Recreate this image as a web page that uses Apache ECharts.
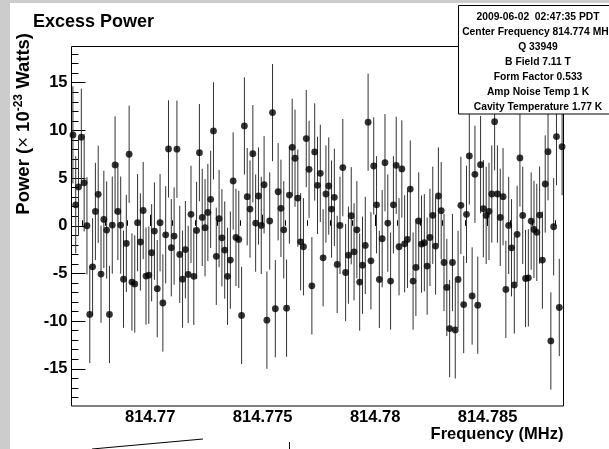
<!DOCTYPE html>
<html>
<head>
<meta charset="utf-8">
<script src="https://cdn.jsdelivr.net/npm/echarts@6/dist/echarts.min.js"></script>
<style>
  html, body { margin: 0; padding: 0; background: #ffffff; }
  #chart { width: 609px; height: 449px; }
</style>
</head>
<body>
<div id="chart"></div>
<script>
// Frequency binning (MHz): lower edge of the first bin and bin width
const BIN_START = 814.7665;
const BIN_WIDTH = 0.000125;

// Excess power per bin, in units of 1e-23 W
const power = [
  9.53, 2.2, 4.07, 9.29, 4.5, 0.0, -9.3, -4.3, 1.5, 3.3,
  -5.07, 0.67, -0.45, -9.3, 0.07, 6.38, 1.5, 0.07, -5.6, -1.85,
  7.5, -5.9, -6.1, 0.32, -1.7, 1.6, -5.28, -5.18, -2.83, -0.56,
  -6.6, 0.32, -8.1, -0.95, 8.06, -2.3, -1.08, 8.03, -3.0, -5.6,
  -2.5, -5.1, 1.2, -5.3, -0.49, 7.67, 0.88, -0.2, 1.4, 2.77,
  9.95, -3.2, 0.76, -1.26, -2.55, -5.3, -3.6, 4.7, -1.22, -1.43,
  -9.4, 10.47, 3.05, 1.75, 7.56, 0.28, 3.12, 0.04, 4.3, -9.9,
  0.5, 11.87, -8.7, 3.57, 1.83, -0.42, -8.64, 3.22, 8.23, 7.08,
  2.9, -1.68, -2.2, 9.14, 5.92, -6.3, 7.74, 4.24, 5.5, -3.36,
  3.33, 4.17, 1.75, 2.98, -4.05, 0.04, 6.1, -4.9, -3.08, 1.05,
  -2.73, -0.42, -5.9, -4.13, -2.06, 10.86, -3.68, 6.27, 2.2, -5.63,
  -1.36, 6.62, 0.28, -5.8, 2.2, 6.34, -2.2, 5.96, -1.89, -1.43,
  3.85, -5.8, -4.37, 0.5, -1.92, -1.78, -4.23, -1.22, 1.1, -2.13,
  3.12, 1.58, -3.85, -6.47, -10.78, -3.85, -10.92, -5.63, 2.14, -8.26,
  1.2, 7.32, -7.36, 5.4, -8.33, 6.41, 1.79, 1.09, 1.51, 3.33,
  10.92, 3.33, 0.88, 3.05, -6.67, 0.04, -2.31, -6.2, -0.9, 7.11,
  1.09, -5.53, -5.46, 0.49, -0.38, -0.69, 1.12, -3.6, 4.38, 7.77,
  -12.08, -0.1, 9.35, -8.57, 8.3
];

// One-sigma uncertainty on each power value (1e-23 W)
const POWER_ERR = 5.1;

// Axis tick labels
const xTickLabels = ['814.77', '814.775', '814.78', '814.785'];
const yTickLabels = ['-15', '-10', '-5', '0', '5', '10', '15'];

// Run conditions shown in the info box
const statsLines = [
  '2009-06-02  02:47:35 PDT',
  'Center Frequency 814.774 MHz',
  'Q 33949',
  'B Field 7.11 T',
  'Form Factor 0.533',
  'Amp Noise Temp 1 K',
  'Cavity Temperature 1.77 K'
];

const X_MIN = BIN_START;
const X_MAX = BIN_START + power.length * BIN_WIDTH;
const Y_MIN = -18.9;
const Y_MAX = 18.8;

// bin centres
const points = power.map((p, i) => [BIN_START + (i + 0.5) * BIN_WIDTH, p]);

// unlabeled minor ticks: every kHz on x, every unit on y
const xMinor = [];
for (let k = 767; k <= 788; k++) xMinor.push(814 + k / 1000);
const yMinor = [];
for (let v = -18; v <= 18; v++) yMinor.push(v);

const FONT = '"Liberation Sans", Arial, Helvetica, sans-serif';
const AX_COLOR = '#000000';

const chart = echarts.init(document.getElementById('chart'), null, { renderer: 'canvas' });

const baseX = {
  type: 'value', gridIndex: 0, position: 'bottom', min: X_MIN, max: X_MAX,
  splitLine: { show: false },
  axisLine: { show: false }
};
const baseY = {
  type: 'value', gridIndex: 0, position: 'left', min: Y_MIN, max: Y_MAX,
  splitLine: { show: false },
  axisLine: { show: false }
};

chart.setOption({
  animation: false,
  backgroundColor: '#ffffff',
  grid: {
    left: 71.5, top: 46.5, width: 492, height: 359.5,
    show: true, borderColor: AX_COLOR, borderWidth: 1, backgroundColor: 'transparent'
  },
  xAxis: [
    Object.assign({}, baseX, {
      axisTick: { show: true, inside: true, length: 11, customValues: xTickLabels.map(Number),
        lineStyle: { color: AX_COLOR, width: 1 } },
      axisLabel: {
        show: true, customValues: xTickLabels.map(Number), margin: 2.5,
        fontFamily: FONT, fontWeight: 'bold', fontSize: 16.5, color: '#000',
        formatter: v => {
          const s = xTickLabels.find(t => Math.abs(Number(t) - v) < 1e-7);
          return s || '';
        }
      }
    }),
    Object.assign({}, baseX, {
      axisTick: { show: true, inside: true, length: 5.5, customValues: xMinor,
        lineStyle: { color: AX_COLOR, width: 1 } },
      axisLabel: { show: false }
    })
  ],
  yAxis: [
    Object.assign({}, baseY, {
      axisTick: { show: true, inside: true, length: 14, customValues: yTickLabels.map(Number),
        lineStyle: { color: AX_COLOR, width: 1 } },
      axisLabel: {
        show: true, customValues: yTickLabels.map(Number), margin: 4,
        padding: [3, 0, 0, 0],
        fontFamily: FONT, fontWeight: 'bold', fontSize: 16.5, color: '#000',
        formatter: v => {
          const s = yTickLabels.find(t => Math.abs(Number(t) - v) < 1e-7);
          return s || '';
        }
      }
    }),
    Object.assign({}, baseY, {
      axisTick: { show: true, inside: true, length: 7, customValues: yMinor,
        lineStyle: { color: AX_COLOR, width: 1 } },
      axisLabel: { show: false }
    })
  ],
  series: [
    {
      type: 'custom',
      name: 'error',
      xAxisIndex: 0, yAxisIndex: 0,
      data: points,
      clip: true,
      renderItem: (params, api) => {
        const x = api.value(0), y = api.value(1);
        const lo = api.coord([x, y - POWER_ERR]);
        const hi = api.coord([x, y + POWER_ERR]);
        return {
          type: 'line',
          shape: { x1: lo[0], y1: lo[1], x2: hi[0], y2: hi[1] },
          style: { stroke: '#333333', lineWidth: 1 },
          silent: true
        };
      }
    },
    {
      type: 'scatter',
      name: 'power',
      xAxisIndex: 0, yAxisIndex: 0,
      data: points,
      symbol: 'circle',
      symbolSize: 6.8,
      itemStyle: { color: '#000000' },
      silent: true
    }
  ],
  graphic: [
    // canvas border strips
    { type: 'rect', shape: { x: 0, y: 0, width: 10, height: 449 }, style: { fill: '#cccccc' }, z: 1 },
    { type: 'rect', shape: { x: 0, y: 0, width: 609, height: 3 }, style: { fill: '#cccccc' }, z: 1 },
    // title
    { type: 'text', x: 33, y: 22, z: 10,
      style: { text: 'Excess Power', font: 'bold 18px ' + FONT, fill: '#000', align: 'left', verticalAlign: 'middle' } },
    // x-axis title
    { type: 'text', x: 563.5, y: 434, z: 10,
      style: { text: 'Frequency (MHz)', font: 'bold 16.5px ' + FONT, fill: '#000', align: 'right', verticalAlign: 'middle' } },
    // y-axis title
    { type: 'text', x: 24, y: 33, rotation: Math.PI / 2, z: 10,
      style: {
        text: '{b|Power (}{n|×}{b| 10}{s|-23}{b| Watts)}',
        align: 'right', verticalAlign: 'middle', fill: '#000',
        rich: {
          b: { fontFamily: FONT, fontWeight: 'bold', fontSize: 18.5, fill: '#000' },
          n: { fontFamily: FONT, fontWeight: 'normal', fontSize: 18.5, fill: '#000' },
          s: { fontFamily: FONT, fontWeight: 'bold', fontSize: 12, fill: '#000', padding: [0, 0, 10, 0] }
        }
      } },
    // info box
    { type: 'rect', z: 20, shape: { x: 458.5, y: 5.5, width: 200, height: 108.5 },
      style: { fill: '#ffffff', stroke: '#000000', lineWidth: 1 } },
    ...statsLines.map((t, i) => ({
      type: 'text', z: 21, x: 538, y: 17 + i * 15,
      style: { text: t, font: 'bold 10.3px ' + FONT, fill: '#000', align: 'center', verticalAlign: 'middle' }
    })),
    // stray strokes along the bottom edge
    { type: 'line', z: 10, shape: { x1: 92, y1: 449, x2: 203, y2: 439 }, style: { stroke: '#000', lineWidth: 1 } },
    { type: 'line', z: 10, shape: { x1: 289.5, y1: 442, x2: 289.5, y2: 449 }, style: { stroke: '#000', lineWidth: 1 } }
  ]
});
</script>
</body>
</html>
